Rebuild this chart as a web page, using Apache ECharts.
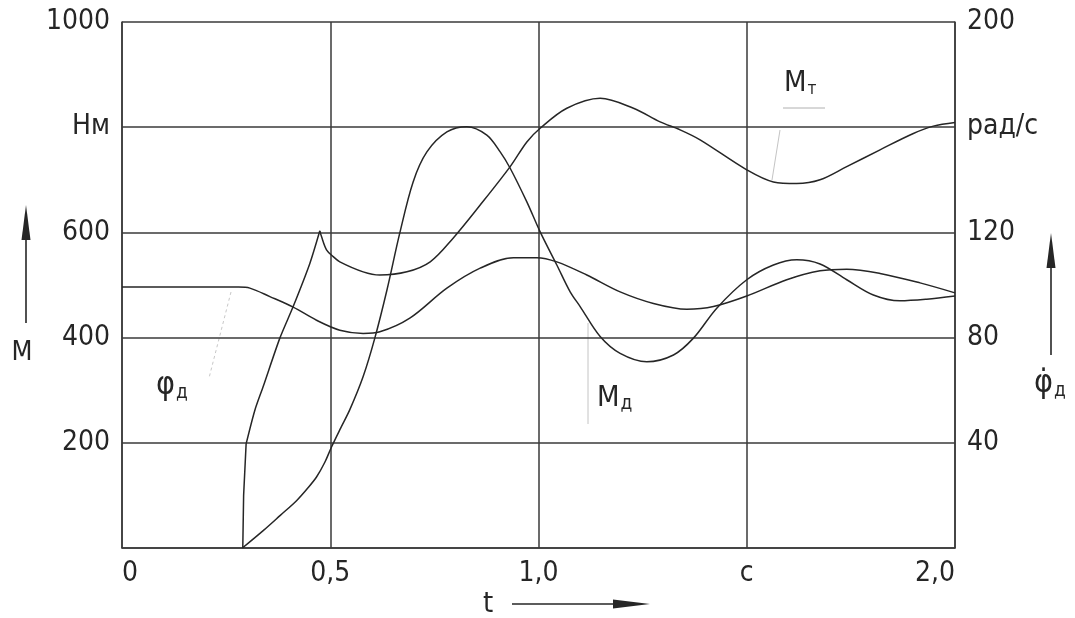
<!DOCTYPE html>
<html>
<head>
<meta charset="utf-8">
<script src="https://cdn.jsdelivr.net/npm/echarts@6/dist/echarts.min.js"></script>
<style>
  html, body { margin: 0; padding: 0; background: #fff; }
  #chart { width: 1075px; height: 618px; }
</style>
</head>
<body>
<div id="chart"></div>
<script>
// ---- data (t in s, torques in Н·м, speed in рад/с) ----
const xTickLabels = ['0', '0,5', '1,0', 'c', '2,0'];           // at t = 0, 0.5, 1.0, 1.5, 2.0
const leftTickLabels = ['', '200', '400', '600', 'Нм', '1000']; // at M = 0..1000 step 200
const rightTickLabels = ['', '40', '80', '120', 'рад/с', '200']; // at ω = 0..200 step 40

// Mт : jump, rise to the spike, then decay/oscillation
const mtJump = [[0.290, 0], [0.292, 100], [0.298, 198]];
const mtRise = [[0.298, 198], [0.319, 262], [0.339, 307], [0.379, 399], [0.411, 459], [0.451, 541], [0.475, 603]];
const mtFall = [[0.475, 603], [0.479, 592], [0.491, 567], [0.507, 554], [0.523, 544], [0.579, 525], [0.619, 519],
  [0.684, 525], [0.740, 544], [0.795, 589], [0.860, 652], [0.932, 725], [0.972, 772], [1.004, 798],
  [1.068, 836], [1.148, 855], [1.228, 836], [1.292, 810], [1.340, 795], [1.388, 776], [1.500, 719],
  [1.564, 696], [1.620, 693], [1.676, 700], [1.740, 725], [1.820, 757], [1.900, 788], [1.948, 802], [2.0, 809]];

// Mд
const md = [[0.289, 0], [0.339, 33], [0.380, 62], [0.419, 90], [0.445, 113], [0.467, 135], [0.487, 163],
  [0.503, 192], [0.525, 228], [0.547, 263], [0.579, 326],
  [0.607, 399], [0.636, 490], [0.667, 599], [0.699, 696], [0.732, 753], [0.780, 791], [0.828, 801],
  [0.876, 785], [0.908, 753], [0.932, 722], [0.972, 658], [1.004, 601], [1.044, 538], [1.076, 487],
  [1.100, 459], [1.148, 402], [1.196, 370], [1.260, 354], [1.324, 367], [1.372, 399], [1.428, 456],
  [1.500, 510], [1.564, 538], [1.620, 548], [1.676, 540], [1.740, 510], [1.804, 481], [1.868, 470],
  [1.932, 473], [2.0, 479]];

// φ̇д (right axis, рад/с)
const phiD = [[0, 99.2], [0.15, 99.2], [0.28, 99.2], [0.307, 98.8], [0.355, 95.6], [0.411, 91.6], [0.467, 86.6],
  [0.523, 82.8], [0.579, 81.6], [0.619, 82.2], [0.691, 87.4], [0.780, 98.8], [0.860, 106.4], [0.940, 110.4],
  [0.996, 110.4], [1.044, 108.8], [1.116, 103.8], [1.196, 97.4], [1.276, 93], [1.356, 90.8], [1.420, 91.8],
  [1.500, 95.8], [1.596, 102], [1.676, 105.4], [1.740, 106], [1.820, 104.4], [1.916, 100.8], [2.0, 97]];

const FONT = "'DejaVu Sans Condensed', 'Liberation Sans Narrow', Roboto, sans-serif";
const INK = '#262626';
const GRID = '#3a3a3a';
const CURVE = { color: '#262626', width: 1.5 };
const TICK_SIZE = 28;

const chart = echarts.init(document.getElementById('chart'), null, { renderer: 'canvas' });

function lineSeries(data, smooth, yIdx) {
  return {
    type: 'line', data: data, yAxisIndex: yIdx || 0, showSymbol: false, symbol: 'none',
    smooth: smooth, lineStyle: CURVE, itemStyle: { color: CURVE.color }, animation: false, z: 5
  };
}

const textBase = { fontFamily: FONT, fill: INK };
function subLabel(x, y, main, sub, size, subSize) {
  return {
    type: 'text', x: x, y: y, z: 10,
    style: {
      text: '{m|' + main + '}{s|' + sub + '}',
      fontFamily: FONT, fill: INK, verticalAlign: 'middle',
      rich: {
        m: { fontSize: size, fontFamily: FONT, color: INK },
        s: { fontSize: subSize, fontFamily: FONT, color: INK, padding: [Math.round(size * 0.45), 0, 0, 1] }
      }
    }
  };
}

const option = {
  backgroundColor: '#fff',
  animation: false,
  grid: { left: 122, right: 120, top: 22, bottom: 70, containLabel: false },
  xAxis: {
    type: 'value', min: 0, max: 2, interval: 0.5,
    axisLine: { show: true, lineStyle: { color: GRID, width: 1.5 } },
    axisTick: { show: false },
    splitLine: { show: true, lineStyle: { color: GRID, width: 1.5 } },
    axisLabel: {
      margin: 12, fontSize: TICK_SIZE, fontFamily: FONT, color: INK,
      alignMinLabel: 'left', alignMaxLabel: 'right',
      formatter: v => xTickLabels[Math.round(v / 0.5)]
    }
  },
  yAxis: [
    {
      type: 'value', min: 0, max: 1000, interval: 200, position: 'left',
      axisLine: { show: true, lineStyle: { color: GRID, width: 1.5 } },
      axisTick: { show: false },
      splitLine: { show: true, lineStyle: { color: GRID, width: 1.5 } },
      axisLabel: {
        margin: 12, fontSize: TICK_SIZE, fontFamily: FONT, color: INK,
        formatter: v => leftTickLabels[Math.round(v / 200)]
      }
    },
    {
      type: 'value', min: 0, max: 200, interval: 40, position: 'right',
      axisLine: { show: true, lineStyle: { color: GRID, width: 1.5 } },
      axisTick: { show: false },
      splitLine: { show: false },
      axisLabel: {
        margin: 12, fontSize: TICK_SIZE, fontFamily: FONT, color: INK,
        formatter: v => rightTickLabels[Math.round(v / 40)]
      }
    }
  ],
  series: [
    lineSeries(mtJump, false),
    lineSeries(mtRise, 0.25),
    lineSeries(mtFall, 0.33),
    lineSeries(md, 0.33),
    lineSeries(phiD, 0.33, 1)
  ],
  graphic: [
    // left axis name: arrow + M
    { type: 'line', shape: { x1: 26, y1: 236, x2: 26, y2: 323 }, style: { stroke: INK, lineWidth: 1.6 } },
    { type: 'polygon', shape: { points: [[26, 205], [21.5, 240], [30.5, 240]] }, style: { fill: INK } },
    { type: 'text', x: 22, y: 353, style: Object.assign({ text: 'M', fontSize: 27, align: 'center', verticalAlign: 'middle' }, textBase) },
    // right axis name: arrow + φ̇д
    { type: 'line', shape: { x1: 1051, y1: 264, x2: 1051, y2: 355 }, style: { stroke: INK, lineWidth: 1.6 } },
    { type: 'polygon', shape: { points: [[1051, 233], [1046.5, 268], [1055.5, 268]] }, style: { fill: INK } },
    subLabel(1034, 384, 'φ̇', 'д', 32, 19),
    // x axis name: t + arrow
    { type: 'text', x: 488, y: 604, style: Object.assign({ text: 't', fontSize: 29, align: 'center', verticalAlign: 'middle' }, textBase) },
    { type: 'line', shape: { x1: 512, y1: 604, x2: 616, y2: 604 }, style: { stroke: INK, lineWidth: 1.6 } },
    { type: 'polygon', shape: { points: [[650, 604], [613, 599.5], [613, 608.5]] }, style: { fill: INK } },
    // curve labels
    subLabel(156, 386, 'φ', 'д', 32, 19),
    { type: 'line', shape: { x1: 231, y1: 292, x2: 209, y2: 378 }, style: { stroke: '#c8c8c8', lineWidth: 1, lineDash: [3, 3] } },
    subLabel(597, 398, 'M', 'д', 29, 19),
    { type: 'line', shape: { x1: 588, y1: 323, x2: 588, y2: 424 }, style: { stroke: '#c4c4c4', lineWidth: 1 } },
    subLabel(784, 83, 'M', 'т', 29, 17),
    { type: 'line', shape: { x1: 783, y1: 108, x2: 825, y2: 108 }, style: { stroke: '#b0b0b0', lineWidth: 1 } },
    { type: 'line', shape: { x1: 780, y1: 130, x2: 772, y2: 180 }, style: { stroke: '#c4c4c4', lineWidth: 1 } }
  ]
};
chart.setOption(option);
</script>
</body>
</html>
